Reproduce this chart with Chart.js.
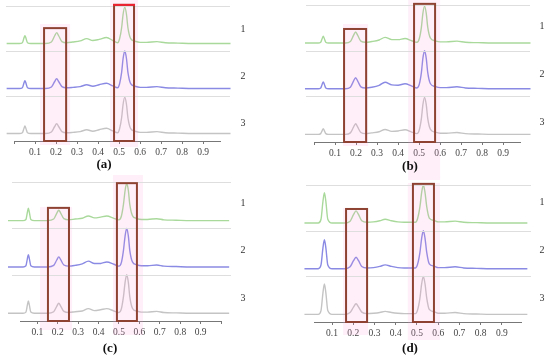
<!DOCTYPE html>
<html><head><meta charset="utf-8">
<script src="https://cdn.jsdelivr.net/npm/chart.js@4.4.1/dist/chart.umd.min.js"></script>
<style>
html,body{margin:0;padding:0;background:#fff;}
#wrap{position:relative;width:550px;height:359px;overflow:hidden;background:#fff;}
canvas{position:absolute;}
.lbl{position:absolute;font-family:"Liberation Serif",serif;color:#333;transform:translate(-50%,-50%);white-space:nowrap;}
.num{font-size:10px;}
.pan{font-size:13px;font-weight:bold;color:#111;}
</style></head><body><div id="wrap"></div>
<script>
// ---------- data ----------
const seriesNames = ['1', '2', '3'];
const panelLabels = ['(a)', '(b)', '(c)', '(d)'];
const xTickLabels = ['0.1', '0.2', '0.3', '0.4', '0.5', '0.6', '0.7', '0.8', '0.9'];

const xsA = [-0.035, 0.025, 0.04, 0.047, 0.052, 0.057, 0.064, 0.08, 0.15, 0.178, 0.193, 0.203, 0.213, 0.228, 0.25, 0.28, 0.315, 0.346, 0.375, 0.405, 0.44, 0.47, 0.493, 0.502, 0.512, 0.519, 0.527, 0.535, 0.542, 0.555, 0.575, 0.6, 0.63, 0.68, 0.72, 0.78, 0.85, 1.03];
const greenA = [0, 0, 0.02, 0.14, 0.21, 0.14, 0.02, 0, 0, 0.04, 0.2, 0.29, 0.2, 0.05, 0.02, 0.04, 0.07, 0.13, 0.08, 0.11, 0.16, 0.08, 0.02, 0.12, 0.42, 0.78, 0.97, 0.78, 0.42, 0.13, 0.06, 0.03, 0.03, 0.05, 0.02, 0.01, 0, 0];
const blueA  = [0, 0, 0.02, 0.14, 0.21, 0.14, 0.02, 0, 0, 0.04, 0.18, 0.26, 0.18, 0.05, 0.02, 0.03, 0.05, 0.1, 0.06, 0.1, 0.14, 0.07, 0.02, 0.12, 0.43, 0.8, 1.0, 0.8, 0.43, 0.13, 0.06, 0.03, 0.03, 0.05, 0.02, 0.01, 0, 0];
const grayA  = [0, 0, 0.02, 0.13, 0.2, 0.13, 0.02, 0, 0, 0.04, 0.18, 0.26, 0.18, 0.05, 0.02, 0.03, 0.05, 0.1, 0.06, 0.1, 0.14, 0.07, 0.02, 0.12, 0.42, 0.78, 0.97, 0.78, 0.42, 0.13, 0.06, 0.03, 0.03, 0.05, 0.02, 0.01, 0, 0];

const xsB = [-0.043, 0.02, 0.032, 0.039, 0.044, 0.049, 0.056, 0.07, 0.15, 0.173, 0.188, 0.198, 0.208, 0.223, 0.245, 0.275, 0.31, 0.338, 0.37, 0.4, 0.433, 0.465, 0.49, 0.501, 0.511, 0.518, 0.526, 0.534, 0.541, 0.554, 0.575, 0.6, 0.63, 0.68, 0.72, 0.78, 0.85, 1.03];
const greenB = [0, 0, 0.02, 0.12, 0.18, 0.12, 0.02, 0, 0, 0.04, 0.2, 0.29, 0.2, 0.05, 0.02, 0.04, 0.08, 0.15, 0.09, 0.09, 0.12, 0.06, 0.02, 0.12, 0.42, 0.78, 0.97, 0.78, 0.42, 0.13, 0.06, 0.03, 0.03, 0.05, 0.02, 0.01, 0, 0];
const blueB  = [0, 0, 0.02, 0.12, 0.18, 0.12, 0.02, 0, 0, 0.04, 0.2, 0.29, 0.2, 0.05, 0.02, 0.04, 0.09, 0.17, 0.1, 0.09, 0.13, 0.07, 0.02, 0.12, 0.43, 0.8, 1.0, 0.8, 0.43, 0.13, 0.06, 0.03, 0.03, 0.05, 0.02, 0.01, 0, 0];
const grayB  = [0, 0, 0.02, 0.1, 0.15, 0.1, 0.02, 0, 0, 0.04, 0.19, 0.28, 0.19, 0.05, 0.02, 0.04, 0.07, 0.13, 0.08, 0.09, 0.12, 0.06, 0.02, 0.12, 0.42, 0.78, 0.97, 0.78, 0.42, 0.13, 0.06, 0.03, 0.03, 0.05, 0.02, 0.01, 0, 0];

const xsC = [-0.044, 0.03, 0.044, 0.051, 0.056, 0.061, 0.068, 0.085, 0.15, 0.18, 0.195, 0.205, 0.215, 0.23, 0.255, 0.285, 0.32, 0.35, 0.38, 0.41, 0.44, 0.475, 0.5, 0.512, 0.522, 0.53, 0.538, 0.546, 0.553, 0.566, 0.585, 0.61, 0.64, 0.685, 0.72, 0.78, 0.85, 1.04];
const greenC = [0, 0, 0.03, 0.21, 0.32, 0.21, 0.03, 0, 0, 0.04, 0.19, 0.27, 0.19, 0.05, 0.02, 0.04, 0.06, 0.12, 0.07, 0.09, 0.12, 0.06, 0.02, 0.12, 0.42, 0.78, 0.97, 0.78, 0.42, 0.13, 0.06, 0.03, 0.03, 0.05, 0.02, 0.01, 0, 0];
const blueC  = [0, 0, 0.03, 0.21, 0.32, 0.21, 0.03, 0, 0, 0.04, 0.18, 0.26, 0.18, 0.05, 0.02, 0.04, 0.08, 0.15, 0.09, 0.09, 0.13, 0.07, 0.02, 0.12, 0.43, 0.8, 1.0, 0.8, 0.43, 0.13, 0.06, 0.03, 0.03, 0.05, 0.02, 0.01, 0, 0];
const grayC  = [0, 0, 0.03, 0.21, 0.32, 0.21, 0.03, 0, 0, 0.04, 0.18, 0.26, 0.18, 0.05, 0.02, 0.04, 0.06, 0.12, 0.07, 0.09, 0.12, 0.06, 0.02, 0.12, 0.43, 0.8, 1.0, 0.8, 0.43, 0.13, 0.06, 0.03, 0.03, 0.05, 0.02, 0.01, 0, 0];

const xsD = [-0.03, 0.035, 0.048, 0.057, 0.064, 0.071, 0.08, 0.1, 0.16, 0.185, 0.201, 0.213, 0.225, 0.24, 0.265, 0.295, 0.325, 0.35, 0.38, 0.41, 0.44, 0.47, 0.493, 0.503, 0.514, 0.522, 0.53, 0.538, 0.546, 0.558, 0.58, 0.6, 0.63, 0.68, 0.72, 0.78, 0.85, 1.02];
const greenD = [0, 0, 0.1, 0.56, 0.8, 0.56, 0.1, 0, 0, 0.05, 0.22, 0.32, 0.22, 0.06, 0.02, 0.03, 0.06, 0.1, 0.06, 0.03, 0.02, 0.02, 0.02, 0.12, 0.43, 0.8, 1.0, 0.8, 0.43, 0.13, 0.07, 0.03, 0.03, 0.05, 0.02, 0.01, 0, 0];
const blueD  = [0, 0, 0.1, 0.54, 0.76, 0.54, 0.1, 0, 0, 0.05, 0.21, 0.3, 0.21, 0.06, 0.02, 0.03, 0.06, 0.1, 0.06, 0.03, 0.02, 0.02, 0.02, 0.12, 0.43, 0.8, 1.0, 0.8, 0.43, 0.13, 0.07, 0.03, 0.03, 0.05, 0.02, 0.01, 0, 0];
const grayD  = [0, 0, 0.1, 0.56, 0.8, 0.56, 0.1, 0, 0, 0.05, 0.19, 0.28, 0.19, 0.06, 0.02, 0.03, 0.05, 0.08, 0.05, 0.03, 0.02, 0.02, 0.02, 0.12, 0.43, 0.8, 1.0, 0.8, 0.43, 0.13, 0.07, 0.03, 0.03, 0.05, 0.02, 0.01, 0, 0];

// highlighted regions [x from, x to, top in band-1 units]
const boxesA = [[0.143, 0.248, 0.41], [0.476, 0.571, 1.03]];
const boxesB = [[0.143, 0.248, 0.37], [0.476, 0.576, 1.03]];
const boxesC = [[0.152, 0.255, 0.33], [0.49, 0.588, 0.97]];
const boxesD = [[0.166, 0.265, 0.37], [0.481, 0.58, 1.03]];
const shadeA = [[0.124, 0.267], [0.457, 0.59]];
const shadeB = [[0.138, 0.257], [0.448, 0.6]];
const shadeC = [[0.113, 0.27], [0.471, 0.618]];
const shadeD = [[0.152, 0.27], [0.457, 0.608]];

// ---------- layout / style ----------
const panels = [
  {xs: xsA, s: [greenA, blueA, grayA], boxes: boxesA, shade: shadeA, shadeY: [[24, 145], [0, 147]], redTop: 1,
   left: 0, top: 0, w: 275, h: 180, pad: {left: 14, right: 55, top: 6, bottom: 19}, xmin: 0, xmax: 0.98,
   nums: [[243, 28], [243, 75], [243, 122]], lab: [104, 164]},
  {xs: xsB, s: [greenB, blueB, grayB], boxes: boxesB, shade: shadeB, shadeY: [[24, 146], [0, 180]], redTop: -1,
   left: 275, top: 0, w: 275, h: 180, pad: {left: 39, right: 30, top: 5, bottom: 18}, xmin: 0, xmax: 0.98,
   nums: [[542, 25], [542, 73], [542, 121]], lab: [410, 166]},
  {xs: xsC, s: [greenC, blueC, grayC], boxes: boxesC, shade: shadeC, shadeY: [[32, 155], [0, 160]], redTop: -1,
   left: 0, top: 175, w: 275, h: 184, pad: {left: 20, right: 54, top: 7, bottom: 18}, xmin: 0.015, xmax: 1.0,
   nums: [[243, 202], [243, 249], [243, 297]], lab: [110, 348]},
  {xs: xsD, s: [greenD, blueD, grayD], boxes: boxesD, shade: shadeD, shadeY: [[33, 160], [8, 165]], redTop: -1,
   left: 275, top: 175, w: 275, h: 184, pad: {left: 39, right: 29, top: 10, bottom: 17}, xmin: 0.015, xmax: 0.99,
   nums: [[542, 201], [542, 249], [542, 297]], lab: [410, 348]}
];
const lineColors = ['#a9d99b', '#8a8ae4', '#c4c4c4'];

const overlay = {
  id: 'overlay',
  afterDraw(chart, args, o) {
    const ctx = chart.ctx, xs = chart.scales.x, y1 = chart.scales.y1, ca = chart.chartArea;
    ctx.save();
    ctx.fillStyle = 'rgba(248,150,215,0.15)';
    o.shade.forEach((p, i) => {
      const l = xs.getPixelForValue(p[0]), r = xs.getPixelForValue(p[1]);
      const yy = o.shadeY[i];
      ctx.fillRect(l, yy[0], r - l, yy[1] - yy[0]);
    });
    ctx.strokeStyle = '#dedede'; ctx.lineWidth = 1;
    ['y1', 'y2', 'y3'].forEach(id => {
      const yy = Math.round(chart.scales[id].top) + 0.5;
      ctx.beginPath(); ctx.moveTo(ca.left - 8, yy); ctx.lineTo(ca.right + 10, yy); ctx.stroke();
    });
    ctx.lineWidth = 2;
    o.boxes.forEach((b, i) => {
      const l = xs.getPixelForValue(b[0]), r = xs.getPixelForValue(b[1]);
      const t = y1.getPixelForValue(b[2]), bt = ca.bottom;
      ctx.strokeStyle = '#8e4332';
      ctx.strokeRect(l, t, r - l, bt - t);
      if (i === o.redTop) {
        ctx.strokeStyle = '#ee2030';
        ctx.beginPath(); ctx.moveTo(l - 1, t); ctx.lineTo(r + 1, t); ctx.stroke();
      }
    });
    ctx.restore();
  }
};

const wrap = document.getElementById('wrap');
panels.forEach((p, pi) => {
  const cv = document.createElement('canvas');
  cv.style.left = p.left + 'px'; cv.style.top = p.top + 'px';
  cv.style.width = p.w + 'px'; cv.style.height = p.h + 'px';
  cv.width = p.w; cv.height = p.h;
  wrap.appendChild(cv);
  const datasets = p.s.map((vals, si) => ({
    label: seriesNames[si],
    data: p.xs.map((x, i) => ({x: x, y: vals[i]})),
    yAxisID: 'y' + (si + 1),
    borderColor: lineColors[si],
    borderWidth: 1.4,
    pointRadius: 0,
    cubicInterpolationMode: 'monotone',
    clip: false,
    fill: false
  }));
  const yAxis = () => ({type: 'linear', display: false, position: 'right', stack: 'bands', stackWeight: 1, min: -0.2, max: 1.0,
    ticks: {display: false}, grid: {display: false}});
  new Chart(cv, {
    type: 'line',
    data: {datasets},
    options: {
      responsive: false, animation: false, devicePixelRatio: 1,
      layout: {padding: p.pad},
      plugins: {legend: {display: false}, tooltip: {enabled: false}, title: {display: false}, overlay: {boxes: p.boxes, shade: p.shade, shadeY: p.shadeY, redTop: p.redTop}},
      scales: {
        x: {type: 'linear', min: p.xmin, max: p.xmax,
          border: {display: true, color: '#777', width: 1},
          grid: {display: true, drawOnChartArea: false, drawTicks: true, tickLength: 3, color: '#777'},
          ticks: {stepSize: 0.1, includeBounds: false, padding: 3, color: '#444', maxRotation: 0, autoSkip: false,
            font: {family: 'Liberation Serif', size: 9.5},
            callback: v => {
              const k = Math.round(v * 10);
              if (Math.abs(v * 10 - k) > 1e-6 || k < 1 || k > 9) return '';
              return xTickLabels[k - 1];
            }},
          afterFit: s => { s.height = 20; }
        },
        y1: yAxis(), y2: yAxis(), y3: yAxis()
      }
    },
    plugins: [overlay]
  });
  p.nums.forEach((n, i) => {
    const d = document.createElement('div'); d.className = 'lbl num';
    d.style.left = n[0] + 'px'; d.style.top = n[1] + 'px'; d.textContent = seriesNames[i];
    wrap.appendChild(d);
  });
  const d = document.createElement('div'); d.className = 'lbl pan';
  d.style.left = p.lab[0] + 'px'; d.style.top = p.lab[1] + 'px'; d.textContent = panelLabels[pi];
  wrap.appendChild(d);
});
</script></body></html>
